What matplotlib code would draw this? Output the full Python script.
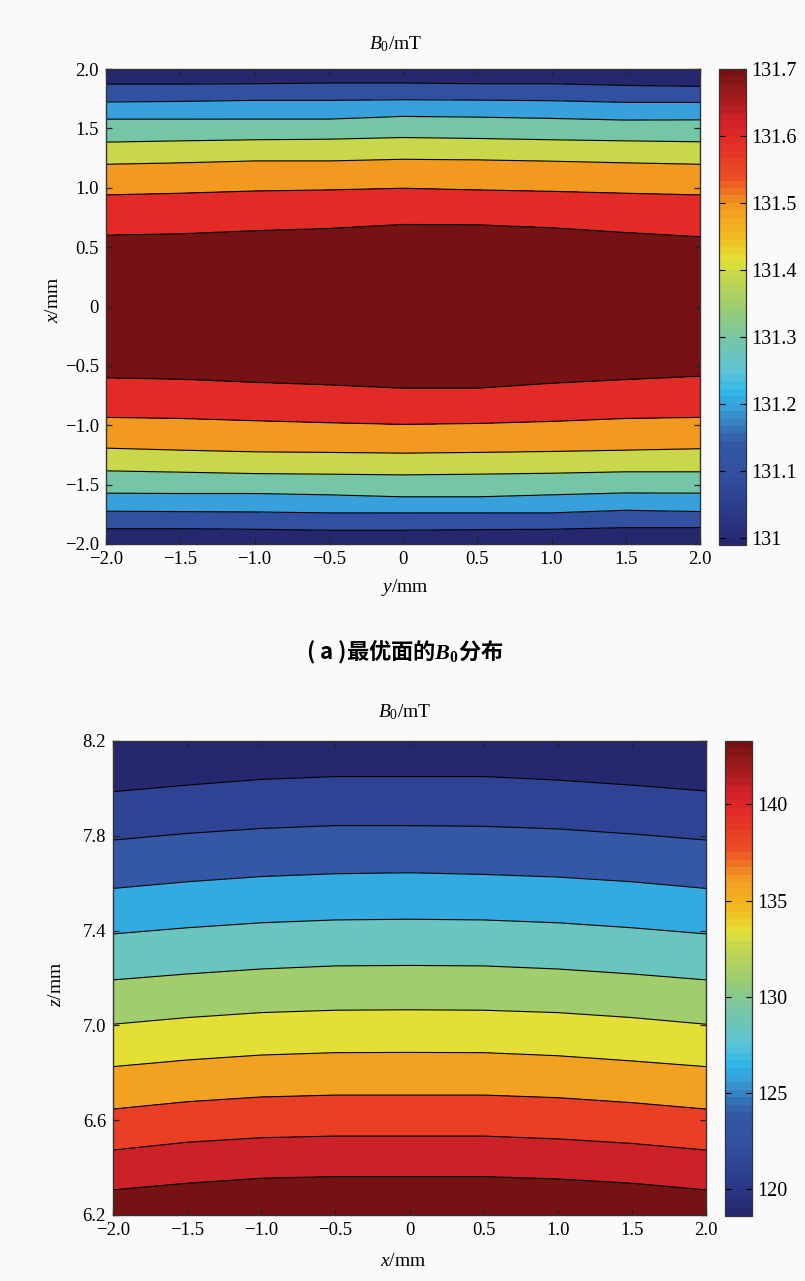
import numpy as np
import matplotlib
matplotlib.use('Agg')
import matplotlib.pyplot as plt
from matplotlib.colors import LinearSegmentedColormap, Normalize
from matplotlib.cm import ScalarMappable

plt.rcParams['font.family'] = ['Liberation Serif', 'DejaVu Serif']
plt.rcParams['mathtext.fontset'] = 'custom'
plt.rcParams['mathtext.rm'] = 'Liberation Serif'
plt.rcParams['mathtext.it'] = 'Liberation Serif:italic'
plt.rcParams['mathtext.bf'] = 'Liberation Serif:bold'
plt.rcParams['mathtext.bfit'] = 'Liberation Serif:italic:bold'

cols = [-2.0, -1.5, -1.0, -0.5, 0.0, 0.5, 1.0, 1.5, 2.0]

# (a) B0 on the optimum plane, contour levels in mT
levels_a = [131.1, 131.2, 131.3, 131.4, 131.5, 131.6, 131.7]
# x position (mm) where each level crosses, above the centre
upper_a = [
    [1.873, 1.873, 1.876, 1.882, 1.882, 1.876, 1.876, 1.862, 1.854],
    [1.722, 1.727, 1.736, 1.736, 1.741, 1.738, 1.733, 1.719, 1.719],
    [1.578, 1.578, 1.578, 1.578, 1.601, 1.595, 1.584, 1.570, 1.572],
    [1.384, 1.395, 1.404, 1.409, 1.423, 1.415, 1.404, 1.395, 1.387],
    [1.198, 1.210, 1.226, 1.226, 1.240, 1.235, 1.224, 1.210, 1.198],
    [0.940, 0.954, 0.973, 0.982, 0.996, 0.982, 0.970, 0.954, 0.940],
    [0.602, 0.613, 0.639, 0.658, 0.692, 0.689, 0.664, 0.624, 0.588],
]
# and below the centre
lower_a = [
    [-1.871, -1.871, -1.876, -1.884, -1.884, -1.879, -1.876, -1.862, -1.862],
    [-1.724, -1.727, -1.730, -1.738, -1.738, -1.738, -1.738, -1.716, -1.727],
    [-1.572, -1.575, -1.575, -1.586, -1.603, -1.603, -1.586, -1.570, -1.572],
    [-1.384, -1.395, -1.407, -1.412, -1.418, -1.412, -1.404, -1.392, -1.392],
    [-1.193, -1.210, -1.224, -1.229, -1.235, -1.229, -1.221, -1.210, -1.198],
    [-0.934, -0.943, -0.962, -0.979, -0.993, -0.985, -0.968, -0.943, -0.934],
    [-0.602, -0.613, -0.639, -0.661, -0.689, -0.689, -0.647, -0.616, -0.588],
]
peak_a = 131.76
clim_a = (130.99, 131.7)

# (b) B0 along z, contour levels in mT
levels_b = [121.25, 123.7, 126.15, 128.6, 131.05, 133.5, 135.95, 138.4, 140.85, 143.3]
# z position (mm) where each level crosses
z_b = [
    [7.986, 8.014, 8.038, 8.050, 8.050, 8.050, 8.035, 8.014, 7.989],
    [7.782, 7.810, 7.831, 7.843, 7.843, 7.840, 7.829, 7.808, 7.782],
    [7.578, 7.606, 7.628, 7.640, 7.644, 7.637, 7.626, 7.606, 7.578],
    [7.386, 7.412, 7.433, 7.445, 7.448, 7.445, 7.433, 7.412, 7.386],
    [7.192, 7.217, 7.238, 7.251, 7.253, 7.251, 7.238, 7.217, 7.192],
    [7.005, 7.033, 7.054, 7.064, 7.066, 7.064, 7.054, 7.033, 7.005],
    [6.826, 6.854, 6.875, 6.885, 6.886, 6.885, 6.872, 6.850, 6.826],
    [6.647, 6.678, 6.698, 6.706, 6.706, 6.706, 6.695, 6.674, 6.647],
    [6.474, 6.507, 6.526, 6.533, 6.533, 6.533, 6.521, 6.502, 6.474],
    [6.306, 6.334, 6.355, 6.362, 6.362, 6.362, 6.352, 6.334, 6.306],
]
clim_b = (118.6, 143.3)

cmap_nodes = [
    (0.00, '#26286f'), (0.07, '#2c3c8c'), (0.143, '#3250a0'), (0.21, '#3458a6'),
    (0.286, '#38a0da'), (0.32, '#30b8e8'), (0.36, '#5cc4d8'), (0.43, '#74c6a6'),
    (0.50, '#9ccc70'), (0.571, '#c8d84a'), (0.60, '#e2e236'), (0.64, '#f2c020'),
    (0.714, '#f29a20'), (0.78, '#ec4c24'), (0.857, '#e22a26'), (0.90, '#d02228'),
    (0.95, '#a01a1c'), (1.00, '#761214'),
]
cmap = LinearSegmentedColormap.from_list('b0', cmap_nodes, N=64)

tick_x = [-2.0, -1.5, -1.0, -0.5, 0.0, 0.5, 1.0, 1.5, 2.0]
tick_x_lab = ['\u22122.0', '\u22121.5', '\u22121.0', '\u22120.5', '0', '0.5', '1.0', '1.5', '2.0']
tick_zb = [6.2, 6.6, 7.0, 7.4, 7.8, 8.2]
tick_zb_lab = ['6.2', '6.6', '7.0', '7.4', '7.8', '8.2']
cb_a_ticks = [131.0, 131.1, 131.2, 131.3, 131.4, 131.5, 131.6, 131.7]
cb_a_lab = ['131', '131.1', '131.2', '131.3', '131.4', '131.5', '131.6', '131.7']
cb_b_ticks = [120, 125, 130, 135, 140]

W, H = 805, 1281
fig = plt.figure(figsize=(W / 100, H / 100), dpi=100, facecolor='#fafafa')


def box(l, t, r, b):
    return [l / W, 1 - b / H, (r - l) / W, (b - t) / H]


def style(ax):
    for s in ax.spines.values():
        s.set_color('#333333')
        s.set_linewidth(1.0)
    ax.tick_params(direction='in', top=True, right=True, length=4.5, width=0.9,
                   labelsize=13.5, pad=5, color='#222222')


def crossings(rows, xf):
    # follow every read contour between the columns
    return np.array([np.interp(xf, cols, r) for r in rows])


xf = np.linspace(-2, 2, 401)

# ---- (a)
ax1 = fig.add_axes(box(106, 69, 700, 544))
ya = np.linspace(-2, 2, 801)
up = crossings(upper_a, xf)
lo = crossings(lower_a, xf)
Za = np.zeros((len(ya), len(xf)))
for j in range(len(xf)):
    u, l = up[:, j], lo[:, j]
    # carry the outer spacing on to the edges
    e_up = levels_a[0] - 0.1 * (2 - u[0]) / (u[0] - u[1])
    e_lo = levels_a[0] - 0.1 * (l[0] + 2) / (l[1] - l[0])
    pos = [-2.0] + list(l) + [0.0] + list(u[::-1]) + [2.0]
    val = [e_lo] + levels_a + [peak_a] + levels_a[::-1] + [e_up]
    Za[:, j] = np.interp(ya, pos, val)

norm_a = Normalize(*clim_a)
lows_a = [131.0] + levels_a
ax1.contourf(xf, ya, Za, levels=[130.0] + levels_a + [132.5],
             colors=[cmap(norm_a(v)) for v in lows_a])
ax1.contour(xf, ya, Za, levels=levels_a, colors='k', linewidths=0.8)
ax1.set_xlim(-2, 2)
ax1.set_ylim(-2, 2)
ax1.set_xticks(tick_x)
ax1.set_xticklabels(tick_x_lab)
ax1.set_yticks(tick_x)
ax1.set_yticklabels(tick_x_lab)
style(ax1)

cax1 = fig.add_axes(box(719, 69, 746, 545))
cb1 = fig.colorbar(ScalarMappable(norm=norm_a, cmap=cmap), cax=cax1)
cb1.set_ticks(cb_a_ticks)
cb1.set_ticklabels(cb_a_lab)
cb1.outline.set_edgecolor('#333333')
cb1.outline.set_linewidth(0.9)
cax1.tick_params(direction='in', left=True, right=True, length=4, width=0.8,
                 labelsize=14.5, pad=4)

fig.text(396 / W, 1 - 44 / H, r'$B_0$/mT', ha='center', va='center', fontsize=14)
fig.text(405 / W, 1 - 587 / H, r'$y$/mm', ha='center', va='center', fontsize=14)
fig.text(53 / W, 1 - 300 / H, r'$x$/mm', ha='center', va='center', fontsize=14,
         rotation=90)

fig.text(405 / W, 1 - 652 / H, '( a )最优面的$\\mathbfit{B}_\\mathbf{0}$分布',
         ha='center', va='center', fontsize=16, weight='bold',
         family=['Noto Sans CJK SC', 'DejaVu Sans'])

# ---- (b)
ax2 = fig.add_axes(box(113, 741, 706, 1215))
zb = np.linspace(6.2, 8.2, 801)
zc = crossings(z_b, xf)
Zb = np.zeros((len(zb), len(xf)))
for j in range(len(xf)):
    z = zc[:, j]
    e_top = levels_b[0] - 2.45 * (8.2 - z[0]) / (z[0] - z[1])
    e_bot = levels_b[-1] + 2.45 * (z[-1] - 6.2) / (z[-2] - z[-1])
    pos = [6.2] + list(z[::-1]) + [8.2]
    val = [e_bot] + levels_b[::-1] + [e_top]
    Zb[:, j] = np.interp(zb, pos, val)

norm_b = Normalize(*clim_b)
lows_b = [118.8] + levels_b
ax2.contourf(xf, zb, Zb, levels=[110.0] + levels_b + [150.0],
             colors=[cmap(norm_b(v)) for v in lows_b])
ax2.contour(xf, zb, Zb, levels=levels_b, colors='k', linewidths=0.8)
ax2.set_xlim(-2, 2)
ax2.set_ylim(6.2, 8.2)
ax2.set_xticks(tick_x)
ax2.set_xticklabels(tick_x_lab)
ax2.set_yticks(tick_zb)
ax2.set_yticklabels(tick_zb_lab)
style(ax2)

cax2 = fig.add_axes(box(725, 741, 752, 1216))
cb2 = fig.colorbar(ScalarMappable(norm=norm_b, cmap=cmap), cax=cax2)
cb2.set_ticks(cb_b_ticks)
cb2.outline.set_edgecolor('#333333')
cb2.outline.set_linewidth(0.9)
cax2.tick_params(direction='in', left=True, right=True, length=4, width=0.8,
                 labelsize=14.5, pad=4)

fig.text(405 / W, 1 - 712 / H, r'$B_0$/mT', ha='center', va='center', fontsize=14)
fig.text(403 / W, 1 - 1261 / H, r'$x$/mm', ha='center', va='center', fontsize=14)
fig.text(56 / W, 1 - 984 / H, r'$z$/mm', ha='center', va='center', fontsize=14,
         rotation=90)

fig.savefig('out.png', dpi=100, facecolor=fig.get_facecolor())
